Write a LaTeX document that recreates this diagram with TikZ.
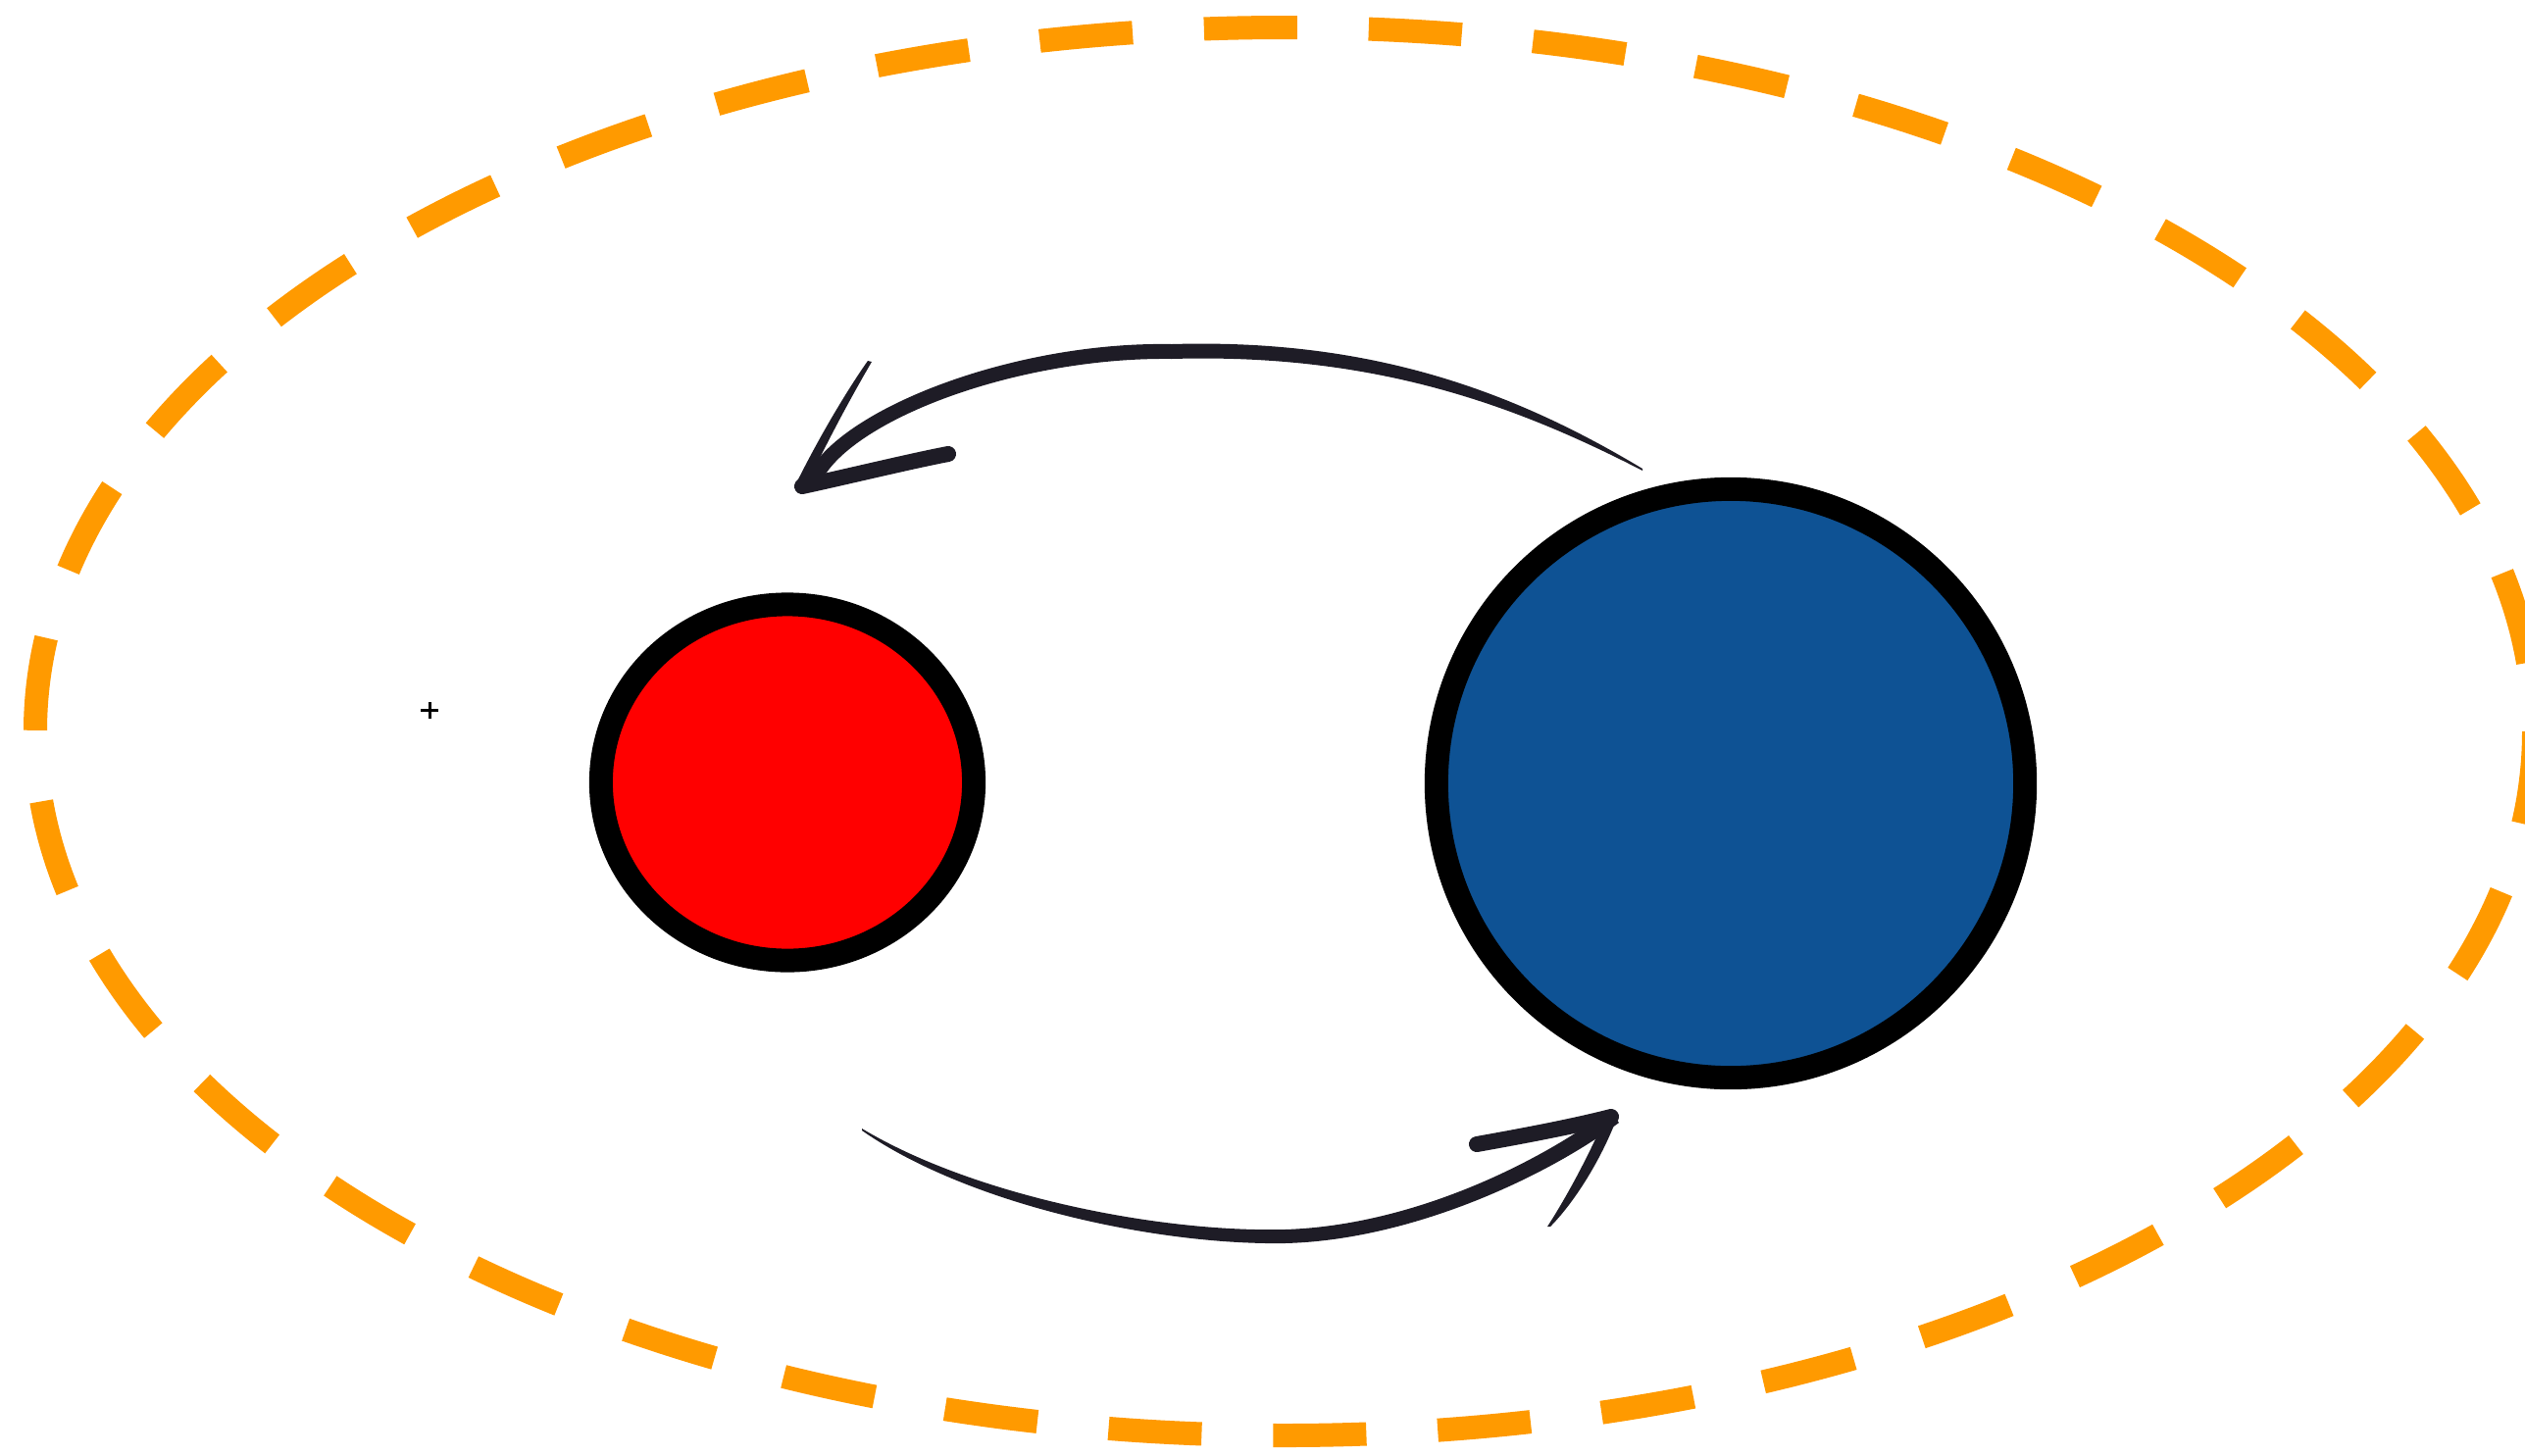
\documentclass[tikz,border=0pt]{standalone}
\usetikzlibrary{shapes.geometric}
\definecolor{orng}{RGB}{255,154,0}
\definecolor{bluef}{RGB}{14,82,148}
\definecolor{ink}{RGB}{30,28,38}
\begin{document}
\begin{tikzpicture}[x=0.01cm,y=-0.01cm,
  ball/.style={ellipse, draw=black, line width=0.24cm, inner sep=0pt, outer sep=0pt},
  barb/.style={draw=ink, line width=0.16cm, line cap=round},
  ring/.style={draw=orng, line width=0.24cm, dash pattern=on 0.95cm off 0.729cm}]
\useasboundingbox (0,0) rectangle (2575,1484);
\clip (0,0) rectangle (2575,1484);
\fill[white] (0,0) rectangle (2575,1484);
% dashed orange ellipse
\draw[ring] (2584,746) arc[start angle=0, end angle=360, x radius=1274, y radius=718];
% circles
\node[ball, fill=red, minimum width=3.8cm, minimum height=3.63cm] (red) at (803,798) {};
\node[ball, fill=bluef, minimum width=6cm, minimum height=6cm] (blue) at (1765,799) {};
% plus mark
\coordinate (plus) at (438,724.5);
\draw[line width=0.03cm] ([xshift=-0.09cm]plus) -- ([xshift=0.09cm]plus)
  ([yshift=-0.085cm]plus) -- ([yshift=0.085cm]plus);
% top arrow (right to left)
\fill[ink] (1675,478) .. controls (1545,400) and (1400,345) .. (1195,351)
  .. controls (1030,348) and (850,420) .. (822,488)
  -- (836,494)
  .. controls (864,430) and (1035,364) .. (1195,366)
  .. controls (1400,360) and (1543,412) .. (1675,480) -- cycle;
\fill[ink] (885,368) .. controls (868,392) and (838,440) .. (810,497)
  -- (822,496) .. controls (846,445) and (872,398) .. (889,369) -- cycle;
\draw[barb] (818,496) .. controls (860,487) and (930,470) .. (967,463);
% bottom arrow (left to right)
\fill[ink] (879,1151) .. controls (992,1219) and (1180,1257) .. (1310,1254)
  .. controls (1440,1250) and (1569,1186) .. (1641,1132)
  -- (1651,1145)
  .. controls (1579,1199) and (1440,1265) .. (1310,1268)
  .. controls (1180,1270) and (988,1229) .. (879,1153) -- cycle;
\fill[ink] (1578,1251) .. controls (1595,1225) and (1620,1180) .. (1638,1137)
  -- (1649,1140) .. controls (1632,1185) and (1604,1228) .. (1581,1251) -- cycle;
\draw[barb] (1506,1167) .. controls (1545,1160) and (1600,1150) .. (1643,1139);
\end{tikzpicture}
\end{document}
